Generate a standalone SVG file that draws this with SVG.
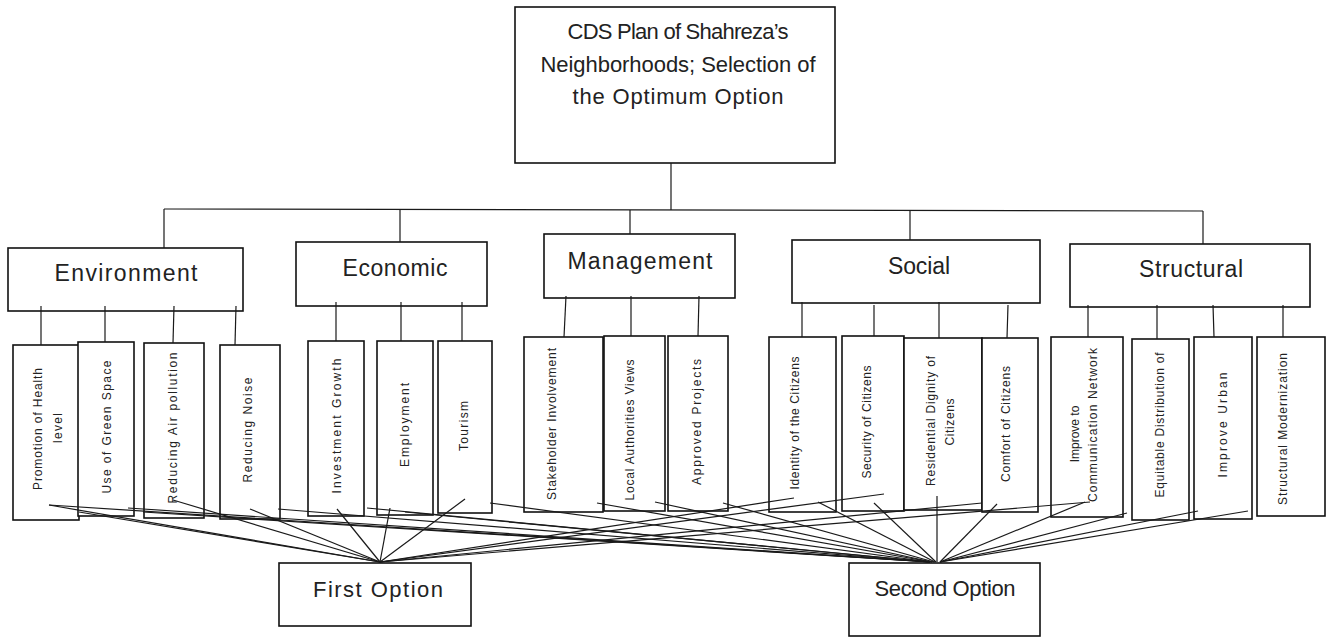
<svg xmlns="http://www.w3.org/2000/svg" width="1327" height="637" viewBox="0 0 1327 637">
<style>
.box{fill:#fff;stroke:#111;stroke-width:1.6}
.ln{stroke:#1a1a1a;stroke-width:1.2;fill:none}
.t{font-family:"Liberation Sans",Arial,sans-serif;fill:#222;text-anchor:middle}
.big{font-size:22px}
.cat{font-size:23px}
.sm{font-size:12px;dominant-baseline:central}
</style>
<rect width="1327" height="637" fill="#fff"/>
<g id="root">
<rect class="box" x="515" y="7" width="320" height="156"/>
<text class="t big" x="678" y="39" textLength="221">CDS Plan of Shahreza’s</text>
<text class="t big" x="678" y="72" textLength="275">Neighborhoods; Selection of</text>
<text class="t big" x="678" y="104" textLength="211">the Optimum Option</text>
</g>
<g id="environment"><rect class="box" x="8" y="248" width="235" height="63"/><text class="t cat" x="126" y="281" textLength="143">Environment</text></g>
<g id="economic"><rect class="box" x="296" y="242" width="191" height="64"/><text class="t cat" x="395" y="276" textLength="105">Economic</text></g>
<g id="management"><rect class="box" x="544" y="234" width="191" height="64"/><text class="t cat" x="640" y="269" textLength="145">Management</text></g>
<g id="social"><rect class="box" x="792" y="240" width="248" height="63"/><text class="t cat" x="919" y="274" textLength="62">Social</text></g>
<g id="structural"><rect class="box" x="1070" y="244" width="240" height="63"/><text class="t cat" x="1191" y="277" textLength="104">Structural</text></g>
<g id="c1"><rect class="box" x="13" y="345" width="66" height="175"/>
<text class="t sm" transform="translate(38,429) rotate(-90)" textLength="122">Promotion of Health</text>
<text class="t sm" transform="translate(58,428) rotate(-90)" textLength="30">level</text></g>
<g id="c2"><rect class="box" x="78" y="342" width="56" height="174"/><text class="t sm" transform="translate(107,427) rotate(-90)" textLength="133">Use of Green Space</text></g>
<g id="c3"><rect class="box" x="144" y="343" width="60" height="175"/><text class="t sm" transform="translate(173,428) rotate(-90)" textLength="151">Reducing Air pollution</text></g>
<g id="c4"><rect class="box" x="220" y="345" width="60" height="174"/><text class="t sm" transform="translate(248,430) rotate(-90)" textLength="105">Reducing Noise</text></g>
<g id="c5"><rect class="box" x="308" y="341" width="56" height="175"/><text class="t sm" transform="translate(337,426) rotate(-90)" textLength="135">Investment Growth</text></g>
<g id="c6"><rect class="box" x="377" y="341" width="56" height="174"/><text class="t sm" transform="translate(405,425) rotate(-90)" textLength="84">Employment</text></g>
<g id="c7"><rect class="box" x="438" y="341" width="54" height="172"/><text class="t sm" transform="translate(464,426) rotate(-90)" textLength="50">Tourism</text></g>
<g id="c8"><rect class="box" x="524" y="337" width="79" height="175"/><text class="t sm" transform="translate(552,424) rotate(-90)" textLength="152">Stakeholder Involvement</text></g>
<g id="c9"><rect class="box" x="604" y="336" width="61" height="175"/><text class="t sm" transform="translate(630,430) rotate(-90)" textLength="141">Local Authorities Views</text></g>
<g id="c10"><rect class="box" x="668" y="336" width="60" height="175"/><text class="t sm" transform="translate(697,422) rotate(-90)" textLength="126">Approved Projects</text></g>
<g id="c11"><rect class="box" x="769" y="337" width="67" height="175"/><text class="t sm" transform="translate(795,423) rotate(-90)" textLength="133">Identity of the Citizens</text></g>
<g id="c12"><rect class="box" x="842" y="336" width="62" height="175"/><text class="t sm" transform="translate(867,422) rotate(-90)" textLength="113">Security of Citizens</text></g>
<g id="c13"><rect class="box" x="904" y="338" width="78" height="172"/>
<text class="t sm" transform="translate(931,421) rotate(-90)" textLength="130">Residential Dignity of</text>
<text class="t sm" transform="translate(950,422) rotate(-90)" textLength="47">Citizens</text></g>
<g id="c14"><rect class="box" x="982" y="338" width="56" height="174"/><text class="t sm" transform="translate(1006,424) rotate(-90)" textLength="116">Comfort of Citizens</text></g>
<g id="c15"><rect class="box" x="1051" y="337" width="72" height="180"/>
<text class="t sm" transform="translate(1075,434) rotate(-90)">Improve to</text>
<text class="t sm" transform="translate(1093,425) rotate(-90)" textLength="154">Communication Network</text></g>
<g id="c16"><rect class="box" x="1132" y="339" width="57" height="181"/><text class="t sm" transform="translate(1160,425) rotate(-90)" textLength="145">Equitable Distribution of</text></g>
<g id="c17"><rect class="box" x="1194" y="337" width="58" height="182"/><text class="t sm" transform="translate(1223,425) rotate(-90)" textLength="105">Improve Urban</text></g>
<g id="c18"><rect class="box" x="1257" y="337" width="68" height="179"/><text class="t sm" transform="translate(1283,429) rotate(-90)" textLength="152">Structural Modernization</text></g>
<g id="first"><rect class="box" x="279" y="563" width="192" height="63"/><text class="t big" x="378" y="597" textLength="130">First Option</text></g>
<g id="second"><rect class="box" x="849" y="563" width="191" height="73"/><text class="t big" x="945" y="596" textLength="141">Second Option</text></g>
<g id="connectors">
<line class="ln" x1="671" y1="163" x2="671" y2="210"/>
<polyline class="ln" points="164,209 1203,211"/>
<line class="ln" x1="164" y1="209" x2="164" y2="248"/>
<line class="ln" x1="400" y1="209" x2="400" y2="242"/>
<line class="ln" x1="630" y1="210" x2="630" y2="234"/>
<line class="ln" x1="910" y1="210" x2="910" y2="240"/>
<line class="ln" x1="1203" y1="211" x2="1203" y2="244"/>
<line class="ln" x1="41" y1="306" x2="41" y2="345"/>
<line class="ln" x1="105" y1="306" x2="105" y2="342"/>
<line class="ln" x1="174" y1="306" x2="173" y2="343"/>
<line class="ln" x1="236" y1="306" x2="235" y2="345"/>
<line class="ln" x1="336" y1="302" x2="336" y2="341"/>
<line class="ln" x1="401" y1="302" x2="401" y2="341"/>
<line class="ln" x1="462" y1="302" x2="462" y2="341"/>
<line class="ln" x1="566" y1="296" x2="564" y2="337"/>
<line class="ln" x1="631" y1="296" x2="631" y2="336"/>
<line class="ln" x1="699" y1="296" x2="698" y2="336"/>
<line class="ln" x1="802" y1="302" x2="802" y2="337"/>
<line class="ln" x1="874" y1="305" x2="874" y2="336"/>
<line class="ln" x1="939" y1="302" x2="939" y2="338"/>
<line class="ln" x1="1008" y1="305" x2="1007" y2="338"/>
<line class="ln" x1="1088" y1="305" x2="1088" y2="337"/>
<line class="ln" x1="1157" y1="305" x2="1157" y2="339"/>
<line class="ln" x1="1213" y1="305" x2="1214" y2="337"/>
<line class="ln" x1="1283" y1="305" x2="1283" y2="337"/>
<line class="ln" x1="49" y1="505" x2="380" y2="562"/>
<line class="ln" x1="79" y1="512" x2="380" y2="562"/>
<line class="ln" x1="173" y1="500" x2="380" y2="562"/>
<line class="ln" x1="250" y1="509" x2="380" y2="562"/>
<line class="ln" x1="337" y1="509" x2="380" y2="562"/>
<line class="ln" x1="390" y1="508" x2="380" y2="562"/>
<line class="ln" x1="465" y1="499" x2="380" y2="562"/>
<line class="ln" x1="794" y1="498" x2="380" y2="562"/>
<line class="ln" x1="884" y1="494" x2="380" y2="562"/>
<line class="ln" x1="982" y1="503" x2="380" y2="562"/>
<line class="ln" x1="1090" y1="502" x2="380" y2="562"/>
<line class="ln" x1="49" y1="505" x2="930" y2="562"/>
<line class="ln" x1="128" y1="508" x2="930" y2="562"/>
<line class="ln" x1="143" y1="512" x2="930" y2="562"/>
<line class="ln" x1="278" y1="509" x2="930" y2="562"/>
<line class="ln" x1="367" y1="508" x2="930" y2="562"/>
<line class="ln" x1="405" y1="512" x2="930" y2="562"/>
<line class="ln" x1="490" y1="503" x2="930" y2="562"/>
<line class="ln" x1="597" y1="503" x2="932" y2="562"/>
<line class="ln" x1="655" y1="502" x2="932" y2="562"/>
<line class="ln" x1="723" y1="503" x2="934" y2="562"/>
<line class="ln" x1="818" y1="502" x2="935" y2="562"/>
<line class="ln" x1="874" y1="503" x2="936" y2="562"/>
<line class="ln" x1="937" y1="496" x2="937" y2="562"/>
<line class="ln" x1="997" y1="504" x2="940" y2="562"/>
<line class="ln" x1="1085" y1="502" x2="940" y2="562"/>
<line class="ln" x1="1127" y1="513" x2="940" y2="562"/>
<line class="ln" x1="1198" y1="511" x2="940" y2="562"/>
<line class="ln" x1="1248" y1="511" x2="940" y2="562"/>
</g>
</svg>
